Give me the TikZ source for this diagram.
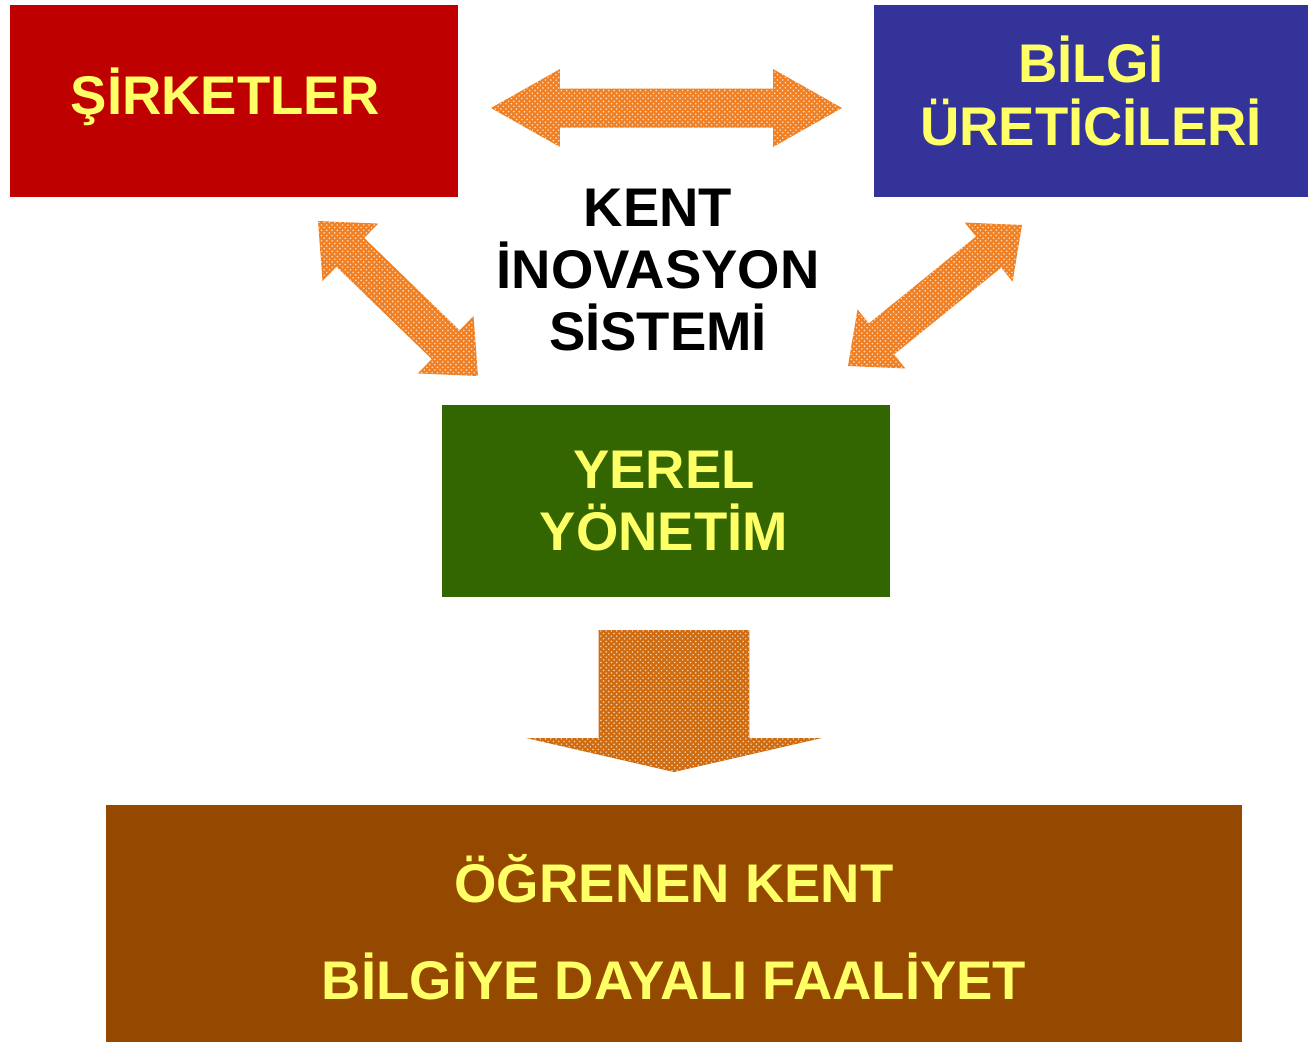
\documentclass[tikz,border=0pt]{standalone}
\usepackage{fontspec}
\setmainfont{Liberation Sans}
\usetikzlibrary{calc,patterns}

\definecolor{firmred}{RGB}{191,0,0}
\definecolor{knowblue}{RGB}{51,51,153}
\definecolor{govgreen}{RGB}{51,102,0}
\definecolor{citybrown}{RGB}{148,72,0}
\definecolor{labelyellow}{RGB}{255,255,102}
\definecolor{arroworange}{RGB}{240,128,36}
\definecolor{arrowdark}{RGB}{208,108,16}

% block arrow with two heads: tips #1 and #2, shaft half width #3, head half width #4, head length #5, style #6
\newcommand{\dblarrow}[6]{
  \coordinate (#1-h) at ($(#1)!#5!(#2)$);
  \coordinate (#2-h) at ($(#2)!#5!(#1)$);
  \fill[#6] (#1) -- ($(#1-h)!#4!90:(#2)$) -- ($(#1-h)!#3!90:(#2)$)
    -- ($(#2-h)!#3!-90:(#1)$) -- ($(#2-h)!#4!-90:(#1)$) -- (#2)
    -- ($(#2-h)!#4!90:(#1)$) -- ($(#2-h)!#3!90:(#1)$)
    -- ($(#1-h)!#3!-90:(#2)$) -- ($(#1-h)!#4!-90:(#2)$) -- cycle;
}
% block arrow with one head: tail centre #1, tip #2
\newcommand{\sglarrow}[6]{
  \coordinate (#2-h) at ($(#2)!#5!(#1)$);
  \fill[#6] ($(#1)!#3!90:(#2)$) -- ($(#2-h)!#3!-90:(#1)$) -- ($(#2-h)!#4!-90:(#1)$)
    -- (#2) -- ($(#2-h)!#4!90:(#1)$) -- ($(#2-h)!#3!90:(#1)$)
    -- ($(#1)!#3!-90:(#2)$) -- cycle;
}

\begin{document}
\begin{tikzpicture}[x=0.02cm, y=-0.02cm,
    box/.style={rectangle, inner sep=0pt, minimum height=3.84cm},
    boxtext/.style={text=labelyellow, align=center, font=\fontsize{31}{35.5}\selectfont\bfseries},
    lightarrow/.style={fill=arroworange, postaction={pattern=crosshatch dots, pattern color=white!75!arroworange}},
    darkarrow/.style={fill=arrowdark, postaction={pattern=crosshatch dots, pattern color=white!70!arrowdark}}]
  \useasboundingbox (0,0) rectangle (1308,1042);

  % actors
  \node[box, fill=firmred, minimum width=8.96cm] (sirket) at (234,101) {};
  \node[boxtext] (sirket-text) at (225,97) {ŞİRKETLER};
  \node[box, fill=knowblue, minimum width=8.68cm] (bilgi) at (1091,101) {};
  \node[boxtext] (bilgi-text) at (1091,91) {BİLGİ\\ÜRETİCİLERİ};
  \node[box, fill=govgreen, minimum width=8.96cm] (yerel) at (666,501) {};
  \node[boxtext] (yerel-text) at (664,501) {YEREL\\YÖNETİM};
  \node[box, fill=citybrown, minimum width=22.72cm, minimum height=4.74cm] (ogrenen) at (674,923.5) {};
  \node[boxtext, font=\fontsize{31}{55.2}\selectfont\bfseries] (ogrenen-text) at (674,927) {ÖĞRENEN KENT\\BİLGİYE DAYALI FAALİYET};
  \node[align=center, font=\fontsize{31}{35.5}\selectfont\bfseries] (kent) at (658,270) {KENT\\İNOVASYON\\SİSTEMİ};

  % arrows
  \coordinate (hl) at (491,108);
  \coordinate (hr) at (842,108);
  \dblarrow{hl}{hr}{0.39cm}{0.78cm}{1.38cm}{lightarrow}
  \coordinate (dl) at (318,221);
  \coordinate (dr) at (478,376);
  \dblarrow{dl}{dr}{0.4cm}{0.8cm}{0.9cm}{lightarrow}
  \coordinate (ul) at (848,366);
  \coordinate (ur) at (1022,225);
  \dblarrow{ul}{ur}{0.4cm}{0.76cm}{0.86cm}{lightarrow}
  \coordinate (top) at (674,630);
  \coordinate (tip) at (674,772);
  \sglarrow{top}{tip}{1.51cm}{2.96cm}{0.68cm}{darkarrow}
\end{tikzpicture}
\end{document}
